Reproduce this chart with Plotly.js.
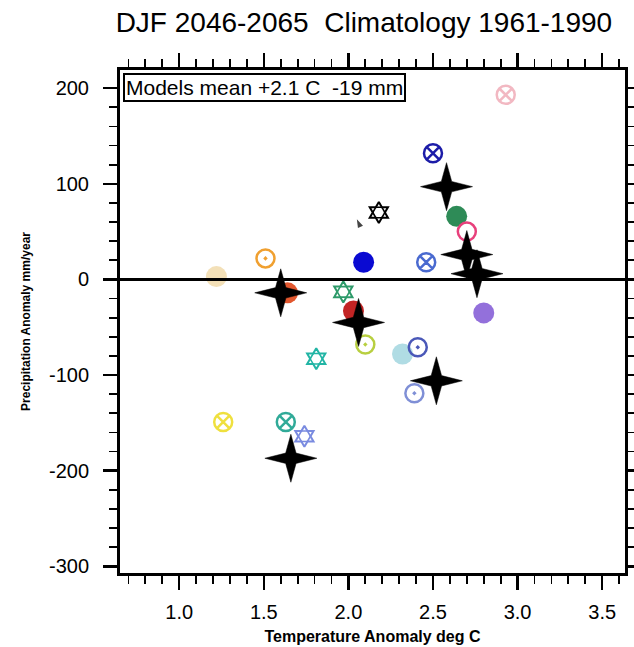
<!DOCTYPE html>
<html>
<head>
<meta charset="utf-8">
<script src="https://cdn.plot.ly/plotly-3.0.1.min.js"></script>
<style>
  html, body { margin: 0; padding: 0; background: #fff; }
  #chart { width: 634px; height: 647px; }
</style>
</head>
<body>
<div id="chart"></div>
<script>
// ---- Data (Temperature anomaly deg C, Precipitation anomaly mm/year) ----
// Filled circles
const filledTemp   = [2.64, 2.09, 1.22, 1.64, 2.03, 2.32, 2.80];
const filledPrecip = [66, 18, 3, -14, -33, -78, -35];
// Circles with a cross
const crossTemp    = [2.93, 2.50, 2.46, 1.26, 1.63];
const crossPrecip  = [193, 132, 18, -149, -149];
// Circles with a dot
const dotTemp      = [1.51, 2.10, 2.41, 2.39];
const dotPrecip    = [22, -68, -71, -119];
// Six-pointed stars
const hexTemp      = [2.18, 1.97, 1.81, 1.74];
const hexPrecip    = [70, -13, -83, -164];
// Open circle
const openTemp     = [2.70];
const openPrecip   = [50];
// Black four-pointed stars
const starTemp     = [2.58, 2.70, 2.76, 1.60, 2.06, 2.52, 1.66];
const starPrecip   = [97, 26, 6, -14, -45, -106, -187];
// Pointer glyph seen in the picture
const pointerTemp  = [2.05];
const pointerPrecip= [63];

const xTickVals = [1.0, 1.5, 2.0, 2.5, 3.0, 3.5];
const xTickText = ['1.0', '1.5', '2.0', '2.5', '3.0', '3.5'];
const yTickVals = [200, 100, 0, -100, -200, -300];
const yTickText = ['200', '100', '0', '-100', '-200', '-300'];

const titleText  = 'DJF 2046-2065  Climatology 1961-1990';
const xTitleText = 'Temperature Anomaly deg C';
const yTitleText = 'Precipitation Anomaly mm/year';
const meanText   = 'Models mean +2.1 C  -19 mm';

// ---- Styles (kept apart from the values) ----
const filledColors = ['#2e8b57', '#0a0ad2', '#f3e0b8', '#e2572e', '#c22424', '#b0dce4', '#9370db'];
const crossColors  = ['#f2b8c2', '#1c1ca8', '#4a6ad0', '#efe03e', '#30aa98'];
const dotColors    = ['#f0a030', '#b8cf40', '#4a58b8', '#7f8fd6'];
const hexColors    = ['#000000', '#2e9a6a', '#22b5a5', '#7a8be0'];
const openColors   = ['#e8407c'];

const FONT = 'Liberation Sans, Arial, Helvetica, sans-serif';
const HEX_SIZE = 16;

// Thin four-pointed star glyph (pixel units around its data anchor)
function starGlyph(armX, armY, inner) {
  return 'M0,-' + armY + ' L' + inner + ',-' + inner + ' L' + armX + ',0' +
         ' L' + inner + ',' + inner + ' L0,' + armY +
         ' L-' + inner + ',' + inner + ' L-' + armX + ',0' +
         ' L-' + inner + ',-' + inner + ' Z';
}
const STAR_PATH = starGlyph(26, 24, 5.2);

const traces = [
  { x: filledTemp, y: filledPrecip, type: 'scatter', mode: 'markers', hoverinfo: 'x+y',
    marker: { symbol: 'circle', size: 21, color: filledColors, line: { width: 0 } } },
  { x: crossTemp, y: crossPrecip, type: 'scatter', mode: 'markers', hoverinfo: 'x+y',
    marker: { symbol: 'circle-x-open', size: 18, color: crossColors, line: { width: 2.5, color: crossColors } } },
  { x: dotTemp, y: dotPrecip, type: 'scatter', mode: 'markers', hoverinfo: 'x+y',
    marker: { symbol: 'circle-open-dot', size: 18, color: dotColors, line: { width: 2.5, color: dotColors } } },
  { x: hexTemp, y: hexPrecip, type: 'scatter', mode: 'markers', hoverinfo: 'x+y',
    marker: { symbol: 'hexagram-open', size: HEX_SIZE, color: hexColors, line: { width: 2, color: hexColors } } },
  { x: hexTemp, y: hexPrecip, type: 'scatter', mode: 'markers', hoverinfo: 'skip',
    marker: { symbol: 'hexagon2-open', size: HEX_SIZE * 0.76, color: hexColors, line: { width: 1.6, color: hexColors } } },
  { x: openTemp, y: openPrecip, type: 'scatter', mode: 'markers', hoverinfo: 'x+y',
    marker: { symbol: 'circle-open', size: 18, color: openColors, line: { width: 2.5, color: openColors } } },
  { x: starTemp, y: starPrecip, type: 'scatter', mode: 'markers', hoverinfo: 'x+y',
    marker: { symbol: 'star-diamond', size: 17, color: '#000000', line: { width: 0 } } },
  { x: pointerTemp, y: pointerPrecip, type: 'scatter', mode: 'markers', hoverinfo: 'skip',
    marker: { symbol: 'arrow', size: 9, angle: -25, color: '#444444', line: { width: 0 } } }
];

const axisCommon = {
  showline: true, linecolor: '#000', linewidth: 3, mirror: 'allticks',
  ticks: 'outside', ticklen: 14, tickwidth: 2.5, tickcolor: '#000',
  showgrid: false, zeroline: false,
  tickfont: { family: FONT, size: 20, color: '#000' },
  fixedrange: true
};

const shapes = [
  { type: 'line', xref: 'paper', x0: 0, x1: 1, yref: 'y', y0: 0, y1: 0,
    line: { color: '#000', width: 3 }, layer: 'above' }
];
starTemp.forEach(function (t, i) {
  shapes.push({
    type: 'path', layer: 'above',
    xref: 'x', yref: 'y', xsizemode: 'pixel', ysizemode: 'pixel',
    xanchor: t, yanchor: starPrecip[i],
    path: STAR_PATH, fillcolor: '#000', line: { width: 0.5, color: '#000' }
  });
});

const layout = {
  width: 634, height: 647,
  paper_bgcolor: '#fff', plot_bgcolor: '#fff',
  showlegend: false,
  margin: { l: 120, r: 9, t: 70, b: 74, pad: 0 },
  font: { family: FONT, color: '#000' },
  title: {
    text: titleText, font: { family: FONT, size: 28, color: '#000' },
    xref: 'container', x: 0.574, xanchor: 'center',
    yref: 'container', y: 0.966, yanchor: 'middle'
  },
  xaxis: Object.assign({}, axisCommon, {
    range: [0.65, 3.635],
    tickvals: xTickVals, ticktext: xTickText,
    ticklabelstandoff: 5,
    minor: { dtick: 0.1, tick0: 0, ticks: 'outside', ticklen: 8, tickwidth: 1.8, tickcolor: '#000' },
    title: { text: '<b>' + xTitleText + '</b>', font: { family: FONT, size: 16, color: '#000' }, standoff: 9 }
  }),
  yaxis: Object.assign({}, axisCommon, {
    range: [-307, 219],
    tickvals: yTickVals, ticktext: yTickText,
    ticklabelstandoff: 10,
    minor: { dtick: 20, tick0: 0, ticks: 'outside', ticklen: 8, tickwidth: 1.8, tickcolor: '#000' },
    title: { text: '<b>' + yTitleText + '</b>', font: { family: FONT, size: 12, color: '#000' }, standoff: 16 }
  }),
  shapes: shapes,
  annotations: [
    { text: meanText, xref: 'paper', yref: 'paper', x: 0, y: 1, xanchor: 'left', yanchor: 'top',
      xshift: 3, yshift: -3, showarrow: false,
      font: { family: FONT, size: 21, color: '#000' },
      bordercolor: '#000', borderwidth: 2, borderpad: 1, bgcolor: '#fff' }
  ]
};

Plotly.newPlot('chart', traces, layout, { displayModeBar: false, staticPlot: true });
</script>
</body>
</html>
